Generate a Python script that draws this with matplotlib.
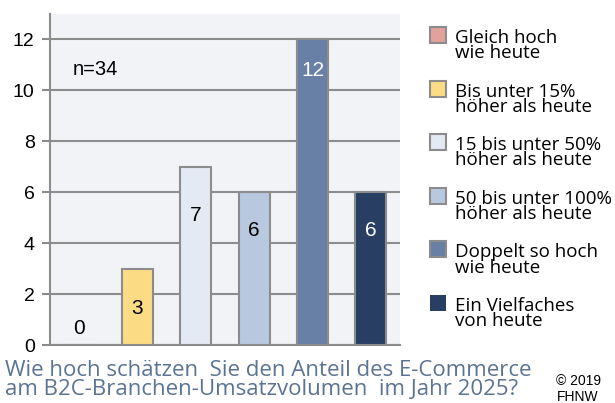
import numpy as np
import matplotlib.pyplot as plt
from matplotlib.patches import Rectangle

# Antworten (Anzahl), n=34
kategorien = ['Gleich hoch\nwie heute',
              'Bis unter 15%\nhöher als heute',
              '15 bis unter 50%\nhöher als heute',
              '50 bis unter 100%\nhöher als heute',
              'Doppelt so hoch\nwie heute',
              'Ein Vielfaches\nvon heute']
werte = [0, 3, 7, 6, 12, 6]
farben = ['#e3a19c', '#fbdc85', '#e4eaf3', '#b8c8df', '#6880a5', '#283f63']
y_ticks = [0, 2, 4, 6, 8, 10, 12]

frage = 'Wie hoch schätzen  Sie den Anteil des E-Commerce\nam B2C-Branchen-Umsatzvolumen  im Jahr 2025?'

# Abstand der Beschriftung unter dem Balkenende (Dateneinheiten)
label_off = [-0.65, 1.55, 1.9, 1.5, 1.2, 1.5]
label_col = ['black', 'black', 'black', 'black', 'white', 'white']

fig = plt.figure(figsize=(6.15, 4.03), dpi=100)
ax = fig.add_axes([50/615, 58/403, 350/615, 331/403])
ax.set_facecolor('#f2f3f7')

x = np.arange(len(werte))
for i, v in enumerate(werte):
    ax.bar(x[i], v, width=0.53, color=farben[i], edgecolor='#8c8c8c', linewidth=1.5, zorder=3)
    ax.text(x[i], v - label_off[i], str(v), ha='center', va='center',
            fontsize=15, color=label_col[i], family='Liberation Sans', zorder=4)

ax.set_xlim(-0.5, 5.5)
ax.set_ylim(0, 13)
ax.set_yticks(y_ticks)
ax.set_xticks([])
ax.yaxis.grid(True, color='#8c8c8c', linewidth=1.5, zorder=1)
ax.set_axisbelow(True)
for s in ['top', 'right']:
    ax.spines[s].set_visible(False)
for s in ['left', 'bottom']:
    ax.spines[s].set_color('#8c8c8c')
    ax.spines[s].set_linewidth(1.5)
ax.tick_params(axis='y', length=6, width=1.5, color='#8c8c8c', labelsize=14, pad=5)
for t in ax.get_yticklabels():
    t.set_family('Liberation Sans')

ax.text(0.065, 0.831, 'n=34', transform=ax.transAxes, fontsize=14.5,
        family='Liberation Sans', va='center')

# Legende manuell
for i, lab in enumerate(kategorien):
    yc = 35 + i * 53.6
    ec = 'none' if i == len(kategorien) - 1 else '#8c8c8c'
    fig.patches.append(Rectangle((430/615, 1 - (yc + 8)/403), 16/615, 16/403,
                                 transform=fig.transFigure, facecolor=farben[i],
                                 edgecolor=ec, linewidth=1.5))
    fig.text(455/615, 1 - (yc - 6)/403, lab, fontsize=13.5, family='Open Sans',
             va='top', ha='left', linespacing=0.8)

fig.text(5/615, 1 - 360/403, frage, fontsize=16, family='Open Sans', color='#5b7494',
         va='top', ha='left', linespacing=0.9)
fig.text(578/615, 1 - 374/403, '© 2019\nFHNW', fontsize=10, family='Liberation Sans',
         va='top', ha='center', linespacing=1.15)

fig.savefig('out.png', dpi=100)
